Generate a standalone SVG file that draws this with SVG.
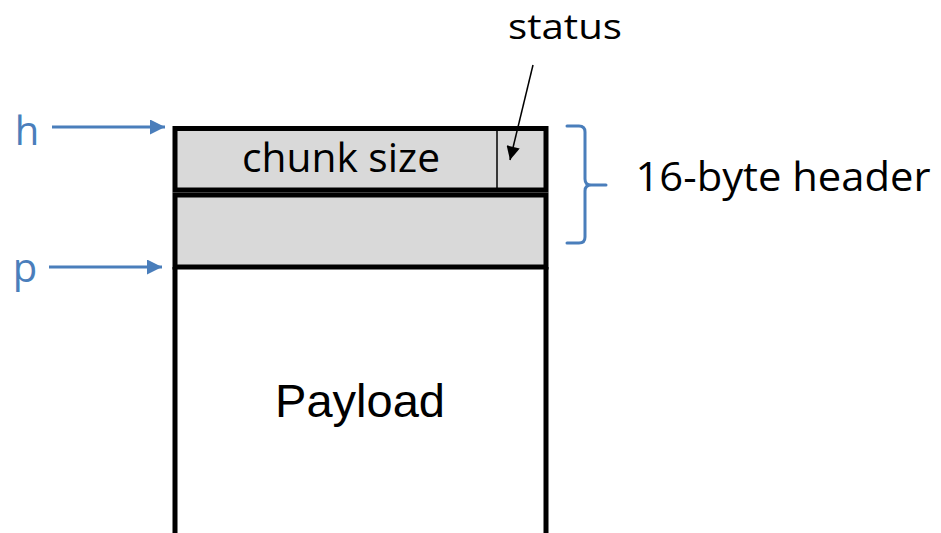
<svg xmlns="http://www.w3.org/2000/svg" width="941" height="533" viewBox="0 0 941 533">
  <defs>
    <marker id="blueHead" viewBox="0 0 10 10" refX="10" refY="5" markerWidth="5" markerHeight="5" orient="auto" markerUnits="strokeWidth">
      <path d="M0,0 L10,5 L0,10 z" fill="#4a7ebb"/>
    </marker>
    <marker id="blackHead" viewBox="0 0 10 10" refX="10" refY="5" markerWidth="10" markerHeight="9" orient="auto" markerUnits="strokeWidth">
      <path d="M0,0 L10,5 L0,10 z" fill="#000"/>
    </marker>
    <style>
      .cell { fill: #d9d9d9; stroke: #000; stroke-width: 5; }
      .body { fill: none; stroke: #000; stroke-width: 5; }
      .lbl { font-family: "Open Sans", "Liberation Sans", sans-serif; font-size: 40px; fill: #000; }
      .small { font-size: 35px; }
      .ptr { font-family: "Open Sans", "Liberation Sans", sans-serif; font-size: 40px; fill: #4a7ebb; }
      .blue { stroke: #4a7ebb; stroke-width: 3; fill: none; }
    </style>
  </defs>

  <!-- payload area, open at the bottom -->
  <g id="payload">
    <path class="body" d="M175,267 L175,533 M546,267 L546,533" />
    <text x="360" y="417" text-anchor="middle" font-family="Liberation Sans, Arial, sans-serif" font-size="46" textLength="170" lengthAdjust="spacingAndGlyphs">Payload</text>
  </g>

  <!-- second header word -->
  <g id="header-word2">
    <rect class="cell" x="175" y="195" width="371" height="72"/>
  </g>

  <!-- first header word: chunk size + status bit -->
  <g id="header-word1">
    <rect class="cell" x="175" y="128.5" width="371" height="61.5"/>
    <line x1="497" y1="128" x2="497" y2="190" stroke="#000" stroke-width="1.5"/>
    <text class="lbl" x="341" y="172" text-anchor="middle" textLength="198" lengthAdjust="spacingAndGlyphs">chunk size</text>
  </g>

  <g id="status-label">
    <text class="lbl small" x="565" y="39" text-anchor="middle" textLength="114" lengthAdjust="spacingAndGlyphs">status</text>
  </g>

  <g id="h-label">
    <text class="ptr" x="27" y="145" text-anchor="middle">h</text>
  </g>
  <g id="p-label">
    <text class="ptr" x="25" y="282" text-anchor="middle">p</text>
  </g>

  <g id="header-brace">
    <path class="blue" stroke-width="5" stroke-linecap="round" stroke-linejoin="round"
          d="M567,126 L579,126 Q585,126 585,132 L585,179 Q585,185 591,185 L606,185 M591,185 Q585,185 585,191 L585,237 Q585,243 579,243 L567,243"/>
    <text class="lbl" x="783" y="191" text-anchor="middle" textLength="295" lengthAdjust="spacingAndGlyphs">16-byte header</text>
  </g>

  <!-- connectors -->
  <g id="connectors">
    <line class="blue" x1="52" y1="127" x2="165" y2="127" marker-end="url(#blueHead)"/>
    <line class="blue" x1="49" y1="267" x2="162" y2="267" marker-end="url(#blueHead)"/>
    <line x1="533" y1="65" x2="510" y2="160" stroke="#000" stroke-width="1.5" marker-end="url(#blackHead)"/>
  </g>
</svg>
